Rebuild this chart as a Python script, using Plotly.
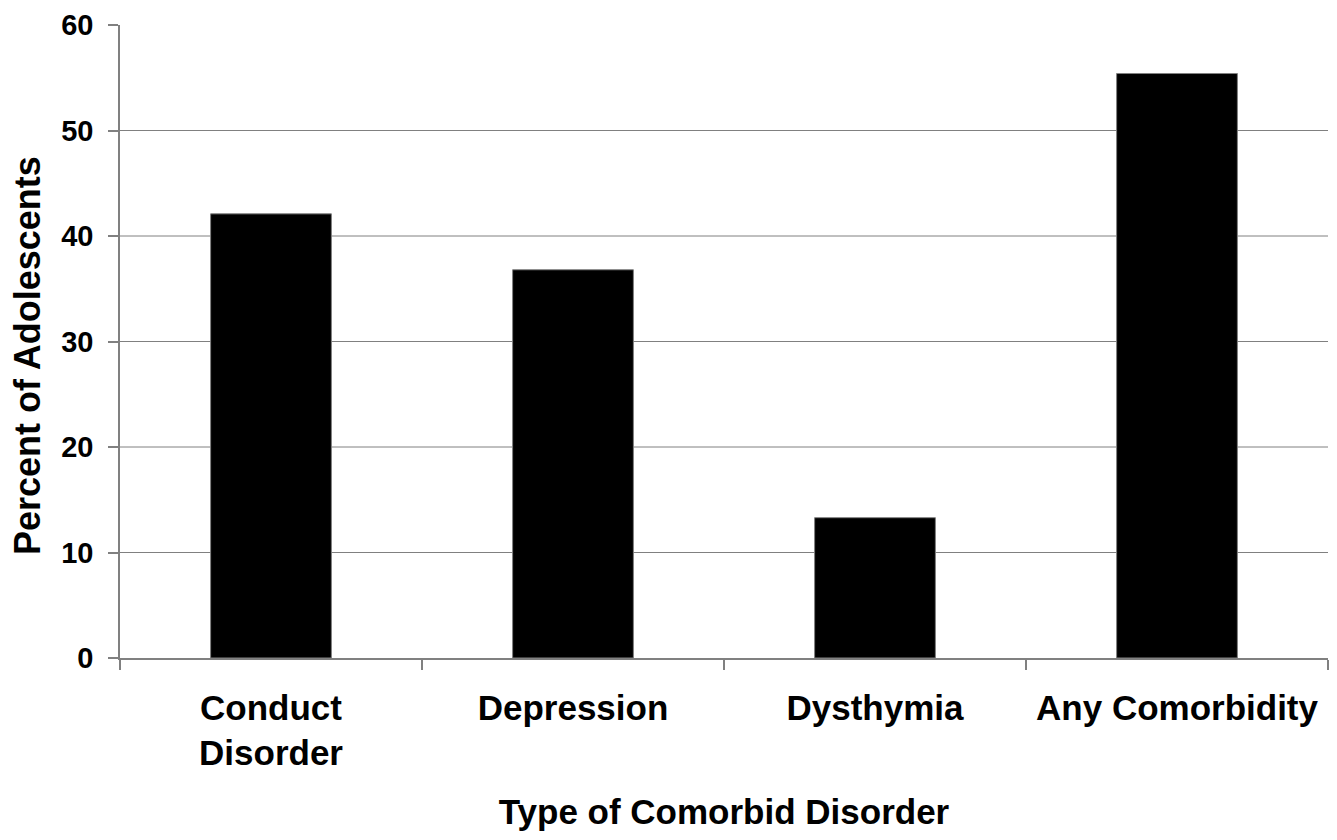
import plotly.graph_objects as go

categories = ["Conduct<br>Disorder", "Depression", "Dysthymia", "Any Comorbidity"]
values = [42.1, 36.8, 13.3, 55.4]
y_ticks = [0, 10, 20, 30, 40, 50, 60]
grid_vals = [10, 20, 30, 40, 50]

FONT = "Liberation Sans, Arial, sans-serif"
AXIS_COLOR = "#808080"

fig = go.Figure()
fig.add_trace(go.Bar(
    x=categories, y=values, width=0.4,
    marker=dict(color="black", line=dict(color="#808080", width=1)),
))

for g in grid_vals:
    fig.add_shape(type="line", xref="paper", yref="y", x0=0, x1=1, y0=g, y1=g,
                  line=dict(color=AXIS_COLOR, width=1), layer="below")

fig.add_annotation(
    text="<b>Percent of Adolescents</b>", textangle=-90,
    xref="paper", yref="paper", x=0, y=0.477,
    xanchor="center", yanchor="middle", xshift=-93,
    showarrow=False, font=dict(size=36, family=FONT, color="black"),
)

fig.update_layout(
    width=1337, height=840,
    margin=dict(l=112, r=17, t=17, b=190),
    plot_bgcolor="white", paper_bgcolor="white",
    showlegend=False,
    font=dict(family=FONT, color="black"),
    xaxis=dict(
        automargin=False,
        showline=True, linecolor=AXIS_COLOR, linewidth=1.5,
        ticks="outside", tickson="boundaries", ticklen=10, tickcolor=AXIS_COLOR, tickwidth=1.5,
        ticklabelstandoff=18,
        tickfont=dict(size=35, family=FONT, color="black", weight="bold"),
        title=dict(text="<b>Type of Comorbid Disorder</b>", font=dict(size=35, family=FONT), standoff=28),
        showgrid=False,
    ),
    yaxis=dict(
        automargin=False,
        range=[0, 60], tickvals=y_ticks,
        showline=True, linecolor=AXIS_COLOR, linewidth=1.5,
        ticks="outside", ticklen=10, tickcolor=AXIS_COLOR, tickwidth=1.5,
        ticklabelstandoff=9,
        tickfont=dict(size=29, family=FONT, color="black", weight="bold"),
        showgrid=False, zeroline=False,
    ),
    bargap=0.6,
)

fig.write_html("out.html")
